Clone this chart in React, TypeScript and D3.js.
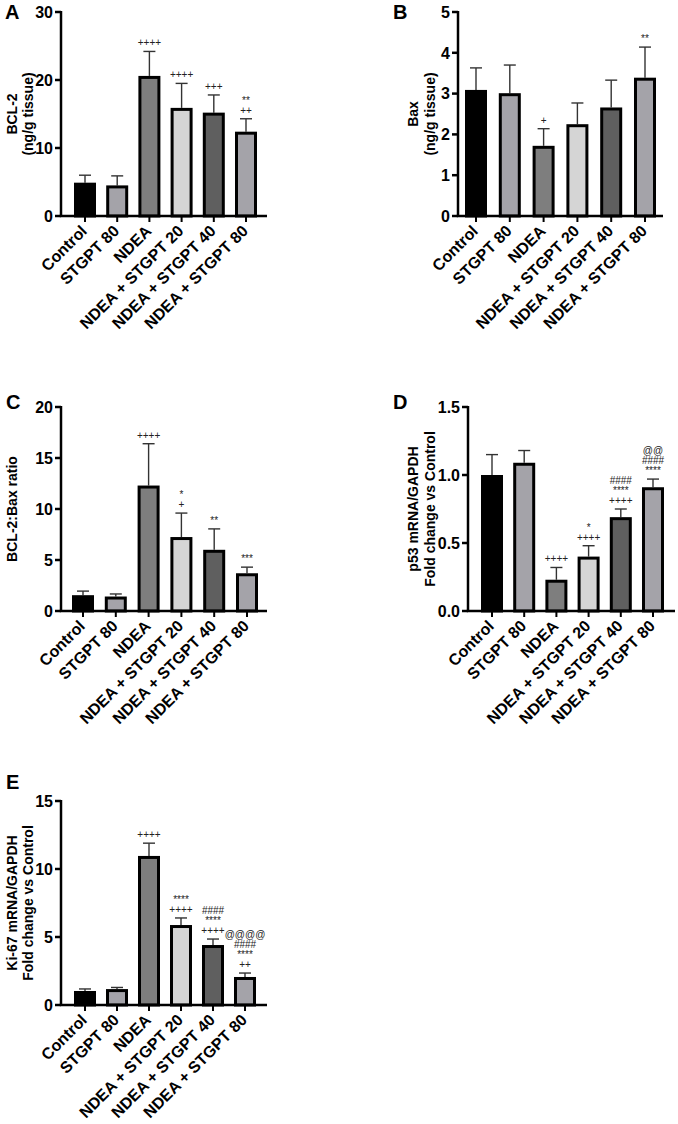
import * as d3 from 'd3'

const groups = ['Control', 'STGPT 80', 'NDEA', 'NDEA + STGPT 20', 'NDEA + STGPT 40', 'NDEA + STGPT 80']
const barFills = ['#000000', '#a4a3a9', '#7e7e7e', '#d5d5d5', '#5f5f5f', '#a4a3a9']

// A: BCL-2 (ng/g tissue)
const bcl2Mean = [4.9, 4.5, 20.6, 15.9, 15.2, 12.4]
const bcl2Sd = [1.1, 1.4, 3.6, 3.6, 2.6, 1.9]
const bcl2Ticks = [0, 10, 20, 30]
const bcl2Marks = [[], [], ['++++'], ['++++'], ['+++'], ['**', '++']]

// B: Bax (ng/g tissue)
const baxMean = [3.09, 3.01, 1.72, 2.25, 2.66, 3.39]
const baxSd = [0.54, 0.69, 0.42, 0.52, 0.67, 0.75]
const baxTicks = [0, 1, 2, 3, 4, 5]
const baxMarks = [[], [], ['+'], [], [], ['**']]

// C: BCL-2:Bax ratio
const ratioMean = [1.55, 1.42, 12.3, 7.25, 6.0, 3.7]
const ratioSd = [0.4, 0.25, 4.1, 2.35, 2.05, 0.6]
const ratioTicks = [0, 5, 10, 15, 20]
const ratioMarks = [[], [], ['++++'], ['*', '+'], ['**'], ['***']]

// D: p53 mRNA/GAPDH
const p53Mean = [1.0, 1.09, 0.23, 0.4, 0.69, 0.91]
const p53Sd = [0.15, 0.09, 0.09, 0.08, 0.06, 0.06]
const p53Ticks = [0, 0.5, 1.0, 1.5]
const p53Marks = [[], [], ['++++'], ['*', '++++'], ['####', '****', '++++'], ['@@', '####', '****']]

// E: Ki-67 mRNA/GAPDH
const ki67Mean = [1.03, 1.17, 10.96, 5.88, 4.41, 2.06]
const ki67Sd = [0.15, 0.12, 0.94, 0.52, 0.44, 0.29]
const ki67Ticks = [0, 5, 10, 15]
const ki67Marks = [[], [], ['++++'], ['****', '++++'], ['####', '****', '++++'], ['@@@@', '####', '****', '++']]

const FONT = "'Liberation Sans', Arial, Helvetica, sans-serif"

interface PanelProps {
  letter: string
  letterX: number
  letterY: number
  titles: string[]
  titleX: number[]
  means: number[]
  sds: number[]
  ticks: number[]
  marks: string[][]
  tickFormat?: (d: number) => string
  axisX: number
  axisEnd: number
  top: number
  bottom: number
  padL: number
  padR: number
}

function Panel(p: PanelProps) {
  const yMax = p.ticks[p.ticks.length - 1]
  const y = d3.scaleLinear().domain([0, yMax]).range([p.bottom, p.top])
  const x = d3.scalePoint<string>()
    .domain(groups)
    .range([p.axisX + p.padL, p.axisEnd - p.padR])
  const fmt = p.tickFormat || ((d: number) => String(d))
  const barW = 19
  const midY = (p.top + p.bottom) / 2

  return (
    <g fontFamily={FONT}>
      <text x={p.letterX} y={p.letterY} fontSize={20} fontWeight="bold">{p.letter}</text>
      {p.titles.map((t, i) => (
        <text
          key={t}
          transform={`translate(${p.titleX[i]},${midY}) rotate(-90)`}
          textAnchor="middle"
          dy="0.35em"
          fontSize={14}
          fontWeight="bold"
        >{t}</text>
      ))}

      {groups.map((g, i) => {
        const cx = x(g) as number
        const yTop = y(p.means[i])
        const yErr = y(p.means[i] + p.sds[i])
        const lines = p.marks[i]
        return (
          <g key={g}>
            <line x1={cx} x2={cx} y1={yTop} y2={yErr} stroke="#333" strokeWidth={1.4} />
            <line x1={cx - 6} x2={cx + 6} y1={yErr} y2={yErr} stroke="#333" strokeWidth={1.4} />
            <rect
              x={cx - barW / 2}
              y={yTop + 1.5}
              width={barW}
              height={p.bottom - yTop - 1.5}
              fill={barFills[i]}
              stroke="#000"
              strokeWidth={3}
            />
            {lines.map((s, k) => (
              <text
                key={k}
                x={cx}
                y={yErr - 5 - (lines.length - 1 - k) * 10}
                textAnchor="middle"
                fontSize={10}
                fill="#222"
              >{s}</text>
            ))}
            <line x1={cx} x2={cx} y1={p.bottom} y2={p.bottom + 6} stroke="#000" strokeWidth={2} />
            <text
              transform={`translate(${cx + 3},${p.bottom + 16}) rotate(-45)`}
              textAnchor="end"
              fontSize={16}
              fontWeight="bold"
            >{g}</text>
          </g>
        )
      })}

      <line x1={p.axisX} x2={p.axisX} y1={p.top - 1} y2={p.bottom} stroke="#000" strokeWidth={2.5} />
      <line x1={p.axisX - 1.25} x2={p.axisEnd} y1={p.bottom} y2={p.bottom} stroke="#000" strokeWidth={2.5} />
      {p.ticks.map((t) => (
        <g key={t}>
          <line x1={p.axisX - 6} x2={p.axisX} y1={y(t)} y2={y(t)} stroke="#000" strokeWidth={2.5} />
          <text x={p.axisX - 8} y={y(t)} dy="0.36em" textAnchor="end" fontSize={16} fontWeight="bold">{fmt(t)}</text>
        </g>
      ))}
    </g>
  )
}

export default function App() {
  const f1 = d3.format('.1f')
  return (
    <svg width={678} height={1124} style={{ position: 'absolute', left: 0, top: 0, background: '#fff' }}>
      <rect width={678} height={1124} fill="#fff" />
      <Panel letter="A" letterX={5} letterY={19} titles={['BCL-2', '(ng/g tissue)']} titleX={[12, 28]}
        means={bcl2Mean} sds={bcl2Sd} ticks={bcl2Ticks} marks={bcl2Marks}
        axisX={61} axisEnd={267} top={12} bottom={216} padL={24} padR={21} />
      <Panel letter="B" letterX={393} letterY={19} titles={['Bax', '(ng/g tissue)']} titleX={[413, 430]}
        means={baxMean} sds={baxSd} ticks={baxTicks} marks={baxMarks}
        axisX={458} axisEnd={663} top={12} bottom={216} padL={18} padR={18} />
      <Panel letter="C" letterX={6} letterY={409} titles={['BCL-2:Bax ratio']} titleX={[12]}
        means={ratioMean} sds={ratioSd} ticks={ratioTicks} marks={ratioMarks}
        axisX={61} axisEnd={267} top={407} bottom={611} padL={22} padR={20} />
      <Panel letter="D" letterX={393} letterY={409} titles={['p53 mRNA/GAPDH', 'Fold change vs Control']} titleX={[413, 430]}
        means={p53Mean} sds={p53Sd} ticks={p53Ticks} marks={p53Marks} tickFormat={(d) => f1(d)}
        axisX={468} axisEnd={675} top={407} bottom={611} padL={24} padR={22} />
      <Panel letter="E" letterX={6} letterY={789} titles={['Ki-67 mRNA/GAPDH', 'Fold change vs Control']} titleX={[12, 28]}
        means={ki67Mean} sds={ki67Sd} ticks={ki67Ticks} marks={ki67Marks}
        axisX={61} axisEnd={267} top={801} bottom={1005} padL={24} padR={22} />
    </svg>
  )
}
